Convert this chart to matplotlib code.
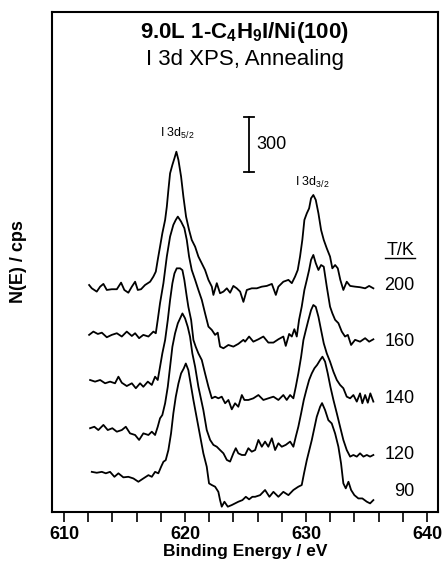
import numpy as np
import matplotlib
matplotlib.use("Agg")
import matplotlib.pyplot as plt

plt.rcParams['font.family'] = ['Liberation Sans', 'DejaVu Sans']
plt.rcParams['mathtext.default'] = 'regular'

# I 3d XPS spectra of 9.0 L 1-C4H9I on Ni(100) after annealing
# binding energy (eV) and N(E) above each trace's own baseline (cps)
temps = ['200', '160', '140', '120', '90']
offsets = [1211, 955, 698, 442, 196]   # vertical stacking of the traces, cps

e_200 = [612.07, 612.29, 612.70, 612.98, 613.25, 613.53, 613.94, 614.36, 614.71, 614.98,
         615.31, 615.60, 615.87, 616.09, 616.36, 616.69, 617.11, 617.38, 617.58, 617.74,
         617.93, 618.12, 618.35, 618.49, 618.62, 618.76, 618.95, 619.12, 619.28, 619.45,
         619.67, 619.86, 620.08, 620.33, 620.55, 620.83, 621.10, 621.38, 621.65, 621.93,
         622.21, 622.34, 622.62, 622.89, 623.17, 623.45, 623.72, 623.99, 624.27, 624.55,
         624.82, 625.10, 625.51, 625.93, 626.34, 626.75, 627.17, 627.50, 627.71, 628.12,
         628.54, 628.82, 629.09, 629.31, 629.50, 629.69, 629.86, 630.06, 630.25, 630.41,
         630.60, 630.80, 631.02, 631.24, 631.46, 631.71, 631.98, 632.17, 632.40, 632.62,
         632.83, 633.08, 633.36, 633.64, 634.05, 634.46, 634.88, 635.21, 635.56]
n_200 = [27, 9, -9, 18, 33, 0, 4, 4, 40, 0,
         -15, 18, 45, 0, 4, 27, 45, 73, 100, 164,
         236, 309, 382, 454, 545, 636, 682, 718, 754, 709,
         618, 509, 400, 327, 273, 236, 182, 145, 109, 55,
         18, -27, 37, -18, -9, 9, -15, 22, 9, -9,
         -65, 0, 9, 9, 18, 22, 33, -27, 18, 45,
         55, 37, 73, 109, 182, 273, 382, 418, 445, 500,
         518, 491, 418, 327, 273, 227, 182, 118, 136, 118,
         55, 0, 45, 22, 18, 15, 9, 22, 9]

e_160 = [612.07, 612.42, 612.79, 613.12, 613.53, 613.94, 614.36, 614.77, 615.18, 615.60,
         615.87, 616.20, 616.55, 616.97, 617.38, 617.58, 617.74, 617.93, 618.21, 618.49,
         618.76, 619.03, 619.23, 619.40, 619.67, 619.94, 620.14, 620.33, 620.55, 620.83,
         621.10, 621.38, 621.65, 621.93, 622.21, 622.48, 622.70, 622.89, 623.17, 623.58,
         623.99, 624.40, 624.82, 624.96, 625.29, 625.64, 626.06, 626.47, 626.88, 627.30,
         627.71, 628.12, 628.32, 628.60, 628.82, 629.03, 629.23, 629.42, 629.64, 629.86,
         630.06, 630.25, 630.41, 630.60, 630.80, 631.02, 631.24, 631.46, 631.71, 631.98,
         632.17, 632.40, 632.67, 632.95, 633.22, 633.45, 633.72, 634.05, 634.46, 634.88,
         635.21, 635.56]
n_160 = [11, 29, 16, 23, -2, 11, 20, 2, 29, 5,
         20, -7, 11, 2, 29, 20, 93, 184, 293, 438,
         547, 611, 638, 656, 629, 593, 529, 438, 365, 311,
         256, 202, 129, 56, 38, 11, 23, -53, -62, -44,
         -53, -38, -16, -26, 2, -26, -13, 2, -31, -31,
         -13, 2, -49, 16, 2, 42, 2, 93, 165, 256,
         311, 365, 420, 447, 402, 365, 392, 383, 274, 165,
         129, 93, 75, 29, 2, 11, -44, -16, -26, -7,
         -26, -13]

e_140 = [612.15, 612.56, 612.98, 613.39, 613.80, 614.21, 614.49, 614.77, 615.18, 615.60,
         615.93, 616.28, 616.55, 616.92, 617.25, 617.52, 617.74, 617.93, 618.12, 618.35,
         618.57, 618.76, 618.95, 619.12, 619.31, 619.59, 619.78, 619.94, 620.14, 620.27,
         620.50, 620.69, 620.88, 621.10, 621.38, 621.65, 621.93, 622.21, 622.48, 622.75,
         623.03, 623.31, 623.58, 623.86, 624.13, 624.40, 624.69, 624.90, 625.23, 625.64,
         626.06, 626.47, 626.88, 627.30, 627.71, 628.12, 628.40, 628.68, 628.95, 629.15,
         629.36, 629.59, 629.78, 629.98, 630.19, 630.41, 630.60, 630.80, 631.02, 631.24,
         631.46, 631.71, 631.98, 632.26, 632.54, 632.81, 633.08, 633.36, 633.64, 633.91,
         634.19, 634.46, 634.65, 634.88, 635.10, 635.31, 635.56]
n_140 = [22, 13, 22, 4, 13, 4, 40, 7, -11, 4,
         -23, 4, -15, 13, -5, 40, 22, 94, 167, 240,
         349, 458, 549, 603, 631, 631, 621, 567, 476, 421,
         349, 240, 203, 167, 131, 58, -15, -78, -69, -78,
         -69, -105, -87, -138, -105, -124, -60, -87, -87, -78,
         -60, -87, -78, -69, -87, -60, -87, -60, -78, -15,
         58, 149, 240, 294, 349, 403, 431, 421, 367, 294,
         222, 167, 122, 67, 22, -5, -23, -69, -78, -60,
         -96, -51, -105, -60, -102, -51, -96]

e_120 = [612.15, 612.50, 612.83, 613.25, 613.61, 613.99, 614.36, 614.77, 615.10, 615.45,
         615.87, 616.20, 616.55, 616.97, 617.25, 617.52, 617.74, 617.93, 618.12, 618.35,
         618.57, 618.76, 618.95, 619.17, 619.40, 619.59, 619.78, 620.00, 620.22, 620.41,
         620.60, 620.83, 621.10, 621.51, 621.79, 622.07, 622.34, 622.62, 622.89, 623.17,
         623.45, 623.72, 623.99, 624.19, 624.40, 624.69, 624.96, 625.23, 625.51, 625.79,
         626.06, 626.34, 626.61, 626.88, 627.17, 627.44, 627.71, 627.99, 628.32, 628.68,
         628.95, 629.15, 629.36, 629.59, 629.81, 630.02, 630.25, 630.47, 630.69, 630.91,
         631.16, 631.35, 631.57, 631.79, 632.01, 632.26, 632.54, 632.81, 633.08, 633.36,
         633.64, 633.91, 634.19, 634.46, 634.74, 635.02, 635.29, 635.56]
n_120 = [15, 23, 5, 33, 5, 15, -4, 5, 23, -13,
         -22, -49, -13, -22, -4, -22, 23, 69, 87, 151,
         241, 350, 459, 532, 587, 614, 641, 614, 568, 514,
         423, 350, 241, 114, 5, -49, -76, -86, -104, -122,
         -158, -167, -122, -94, -122, -131, -131, -94, -113, -104,
         -49, -86, -58, -86, -40, -104, -67, -86, -76, -58,
         -86, -31, 23, 96, 169, 223, 278, 314, 342, 360,
         387, 405, 378, 314, 241, 169, 96, 23, -49, -104,
         -140, -131, -140, -122, -140, -131, -140, -131]

e_90 = [612.29, 612.70, 613.12, 613.45, 613.80, 614.16, 614.49, 614.90, 615.31, 615.73,
        616.14, 616.55, 616.97, 617.25, 617.52, 617.79, 618.02, 618.21, 618.40, 618.62,
        618.84, 619.03, 619.23, 619.45, 619.67, 619.89, 620.06, 620.27, 620.69, 621.10,
        621.51, 621.79, 621.98, 622.21, 622.48, 622.75, 622.89, 623.03, 623.25, 623.53,
        623.86, 624.13, 624.40, 624.74, 625.02, 625.29, 625.56, 625.79, 626.20, 626.61,
        626.97, 627.30, 627.71, 628.12, 628.54, 628.95, 629.36, 629.64, 629.83, 630.06,
        630.47, 630.88, 631.16, 631.32, 631.57, 631.84, 632.12, 632.40, 632.67, 632.89,
        633.08, 633.28, 633.50, 633.72, 633.99, 634.32, 634.65, 635.02, 635.29, 635.56]
n_90 = [23, 18, 23, 15, 23, -4, 15, -7, -4, -13,
        -31, -13, 5, -4, 23, 15, 51, 78, 87, 142,
        233, 342, 432, 505, 560, 587, 614, 578, 414, 269,
        124, 51, -40, -49, -58, -86, -131, -167, -140, -167,
        -158, -149, -140, -131, -113, -127, -113, -113, -104, -76,
        -113, -86, -113, -86, -104, -76, -58, -49, 15, 87,
        196, 323, 378, 398, 360, 305, 287, 232, 160, 69,
        -40, -67, -31, -76, -104, -122, -122, -140, -149, -131]

energies = [e_200, e_160, e_140, e_120, e_90]
counts = [n_200, n_160, n_140, n_120, n_90]
scale_bar = 300  # cps

fig = plt.figure(figsize=(4.42, 5.66), dpi=100)
ax = fig.add_axes([0.1176, 0.0954, 0.8733, 0.8834])

for e, n, off in zip(energies, counts, offsets):
    ax.plot(e, np.array(n) + off, color='black', lw=1.3)

ax.set_xlim(609.0, 640.9)
ax.set_ylim(0, 2727)

ax.set_xticks([610, 620, 630, 640])
ax.set_xticks(np.arange(610, 641, 2), minor=True)
ax.set_yticks([])
ax.tick_params(axis='x', which='both', direction='out', length=7, width=1.2,
               labelsize=13, pad=3)
for lab in ax.get_xticklabels():
    lab.set_fontweight('bold')
for sp in ax.spines.values():
    sp.set_linewidth(1.5)

ax.set_xlabel('Binding Energy / eV', fontsize=12.5, fontweight='bold', labelpad=1)
ax.set_ylabel('N(E) / cps', fontsize=13, fontweight='bold')
ax.yaxis.set_label_coords(-0.065, 0.5)

# title inside the frame
ax.text(0.5, 0.958, '9.0L 1-C$_4$H$_9$I/Ni(100)', transform=ax.transAxes,
        ha='center', va='center', fontsize=16, fontweight='bold')
ax.text(0.5, 0.904, 'I 3d XPS, Annealing', transform=ax.transAxes,
        ha='center', va='center', fontsize=16)

# peak labels
ax.text(0.326, 0.758, 'I 3d$_{5/2}$', transform=ax.transAxes,
        ha='center', va='center', fontsize=9)
ax.text(0.674, 0.660, 'I 3d$_{3/2}$', transform=ax.transAxes,
        ha='center', va='center', fontsize=9)

# 300 cps scale bar
bar_x, bar_y0 = 625.3, 1853
ax.plot([bar_x, bar_x], [bar_y0, bar_y0 + scale_bar], color='black', lw=1.3)
ax.plot([bar_x - 0.4, bar_x + 0.4], [bar_y0, bar_y0], color='black', lw=1.3)
ax.plot([bar_x - 0.4, bar_x + 0.4], [bar_y0 + scale_bar] * 2, color='black', lw=1.3)
ax.text(bar_x + 0.6, bar_y0 + scale_bar / 2, str(scale_bar), ha='left', va='center',
        fontsize=13)

# temperature labels
label_y = [0.454, 0.342, 0.228, 0.116, 0.042]
ax.text(0.94, 0.524, 'T/K', transform=ax.transAxes, ha='right', va='center', fontsize=13)
ax.plot([0.863, 0.94], [0.508, 0.508], transform=ax.transAxes, color='black', lw=1.0)
for t, y in zip(temps, label_y):
    ax.text(0.94, y, t, transform=ax.transAxes, ha='right', va='center', fontsize=13)

fig.savefig('out.png', dpi=100)
